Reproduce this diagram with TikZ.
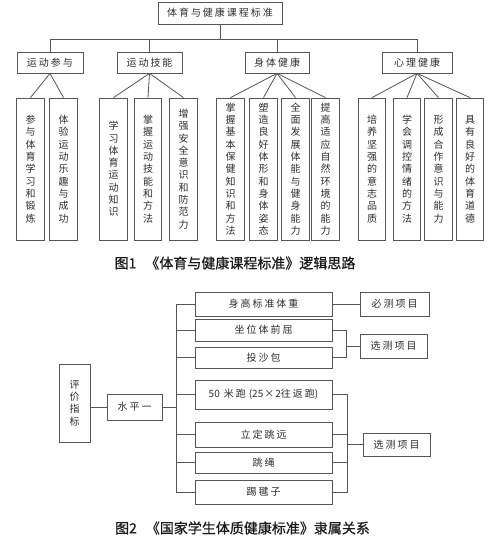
\documentclass[tikz,border=0pt]{standalone}
\usepackage{fontspec}
\newfontfamily\cjk[LetterSpace=20]{Noto Sans CJK SC}
\newfontfamily\cjkv{Noto Sans CJK SC}
\newfontfamily\cjkcap[FakeBold=0.7]{Noto Sans CJK SC}
\definecolor{linec}{HTML}{555555}
\definecolor{txtc}{HTML}{2E2E2E}
\definecolor{capc}{HTML}{1A1A1A}
\newcommand\vt[1]{\vbox{\offinterlineskip\vtA#1\relax\unkern}}
\def\vtA#1{\ifx\relax#1\else\hbox to 10pt{\hss\vrule width0pt height8.8pt depth1.2pt\smash{#1}\hss}\kern2.3pt\expandafter\vtA\fi}
\tikzset{
  box/.style={draw=linec, line width=0.8pt, inner sep=0pt, text=txtc, font=\cjk\fontsize{10}{12}\selectfont},
  vbox/.style={box, font=\cjkv\fontsize{10}{12}\selectfont},
  conn/.style={draw=linec, line width=0.8pt},
  captext/.style={inner sep=0pt, text=capc, font=\cjkcap\fontsize{14}{16}\selectfont}
}
\begin{document}
\begin{tikzpicture}[x=1pt,y=-1pt]
\useasboundingbox[fill=white] (0,0) rectangle (500,542);
% ---------- Figure 1 ----------
\node[box, minimum width=124pt, minimum height=22pt] (root) at (220,13) {体育与健康课程标准};
\node[box, minimum width=66pt, minimum height=21pt] (a) at (50,62.5) {运动参与};
\node[box, minimum width=65pt, minimum height=21pt] (b) at (149.5,62.5) {运动技能};
\node[box, minimum width=64pt, minimum height=21pt] (c) at (277,62.5) {身体健康};
\node[box, minimum width=70pt, minimum height=21pt] (d) at (417,62.5) {心理健康};
\coordinate (bus) at (0,39);
\draw[conn] (root.south) -- (root.south |- bus);
\draw[conn] (a.north) -- (a.north |- bus) -- (d.north |- bus) -- (d.north);
\draw[conn] (b.north) -- (b.north |- bus);
\draw[conn] (c.north) -- (c.north |- bus);
\tikzset{l3/.style={vbox, minimum width=27.5pt, minimum height=142pt}}
\node[l3] (a1) at (30.5,169) {\vt{参与体育学习和锻炼}};
\node[l3] (a2) at (63.5,169) {\vt{体验运动乐趣与成功}};
\node[l3] (b1) at (113.5,169) {\vt{学习体育运动知识}};
\node[l3] (b2) at (148,169) {\vt{掌握运动技能和方法}};
\node[l3] (b3) at (183.5,169) {\vt{增强安全意识和防范力}};
\node[l3] (c1) at (230.5,169) {\vt{掌握基本保健知识和方法}};
\node[l3] (c2) at (263.5,169) {\vt{塑造良好体形和身体姿态}};
\node[l3] (c3) at (295.5,169) {\vt{全面发展体能与健身能力}};
\node[l3] (c4) at (325.5,169) {\vt{提高适应自然环境的能力}};
\node[l3] (d1) at (372,169) {\vt{培养坚强的意志品质}};
\node[l3] (d2) at (407,169) {\vt{学会调控情绪的方法}};
\node[l3] (d3) at (438.5,169) {\vt{形成合作意识与能力}};
\node[l3] (d4) at (470,169) {\vt{具有良好的体育道德}};
\foreach \p/\k in {a/a1,a/a2,b/b1,b/b2,b/b3,c/c1,c/c2,c/c3,c/c4,d/d1,d/d2,d/d3,d/d4}
  \draw[conn] (\p.south) -- (\k.north);
\node[captext] (cap1) at (235,263) {图1\hspace{9pt}《体育与健康课程标准》逻辑思路};
% ---------- Figure 2 ----------
\node[vbox, minimum width=31pt, minimum height=78pt] (ev) at (74.5,403) {\vt{评价指标}};
\node[box, minimum width=55pt, minimum height=26pt] (lv) at (134.5,407) {水平一};
\coordinate (tx) at (176,0);
\tikzset{rb/.style={box, minimum width=137pt}}
\node[rb, minimum height=24pt] (r1) at (263.5,304) {身高标准体重};
\node[rb, minimum height=22pt] (r2) at (263.5,330) {坐位体前屈};
\node[rb, minimum height=21pt] (r3) at (263.5,357.5) {投沙包};
\node[rb, minimum height=29pt] (r4) at (263.5,394.5) {{\cjkv 50\hspace{4pt}}米跑{\cjkv\hspace{3pt}(25\hspace{1pt}×\hspace{1pt}2}往返跑{\cjkv)}};
\node[rb, minimum height=25pt] (r5) at (263.5,434.5) {立定跳远};
\node[rb, minimum height=21pt] (r6) at (263.5,462.5) {跳绳};
\node[rb, minimum height=24pt] (r7) at (263.5,492) {踢毽子};
\draw[conn] (lv.west) -- (lv.west -| ev.east);
\draw[conn] (lv.east) -- (lv.east -| tx);
\draw[conn] (r1.west -| tx) -- (r7.west -| tx);
\foreach \k in {r1,r2,r3,r4,r5,r6,r7}
  \draw[conn] (\k.west) -- (\k.west -| tx);
\node[box, minimum width=69pt, minimum height=24pt] (m1) at (394.5,304) {必测项目};
\node[box, minimum width=67pt, minimum height=24pt] (m2) at (393.5,346) {选测项目};
\node[box, minimum width=67pt, minimum height=23pt] (m3) at (396.5,444.5) {选测项目};
\draw[conn] (r1.east) -- (m1.west);
\coordinate (bx2) at (346,0);
\coordinate (bx3) at (347,0);
\draw[conn] (r2.east) -- (r2.east -| bx2) -- (r3.east -| bx2) -- (r3.east);
\draw[conn] (m2.west) -- (m2.west -| bx2);
\draw[conn] (r4.east) -- (r4.east -| bx3) -- (r7.east -| bx3) -- (r7.east);
\foreach \k in {r5,r6}
  \draw[conn] (\k.east) -- (\k.east -| bx3);
\draw[conn] (m3.west) -- (m3.west -| bx3);
\node[captext] (cap2) at (242.5,528) {图2\hspace{9pt}《国家学生体质健康标准》隶属关系};
\end{tikzpicture}
\end{document}
